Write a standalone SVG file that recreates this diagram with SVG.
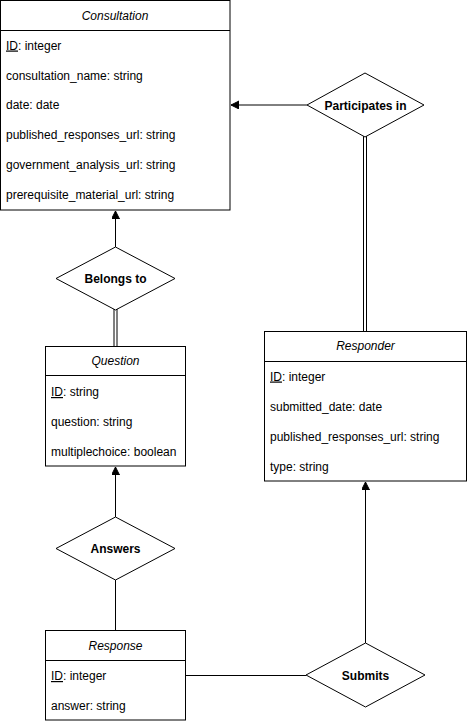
<svg xmlns="http://www.w3.org/2000/svg" width="467" height="721" viewBox="0 0 467 721">
<defs>
<style>
.box{fill:#fff;stroke:#000;stroke-width:1}
.ln{stroke:#000;stroke-width:1;fill:none}
.t{font-family:"Liberation Sans",Arial,Helvetica,sans-serif;font-size:12px;fill:#000}
.title{font-style:italic;text-anchor:middle}
.rel{font-weight:bold;text-anchor:middle}
.dia{fill:#fff;stroke:#000;stroke-width:1}
</style>
<marker id="arr" markerUnits="userSpaceOnUse" markerWidth="10" markerHeight="10" refX="8" refY="4" orient="auto">
<path d="M0,0 L8,4 L0,8 z" fill="#000" stroke="#000" stroke-width="1"/>
</marker>
</defs>
<rect width="467" height="721" fill="#fff"/>
<g id="connectors">
<line class="ln" x1="307" y1="105" x2="231" y2="105" marker-end="url(#arr)"/>
<line class="ln" x1="363.5" y1="136" x2="363.5" y2="331"/>
<line class="ln" x1="366.5" y1="136" x2="366.5" y2="331"/>
<line class="ln" x1="115.5" y1="247" x2="115.5" y2="211" marker-end="url(#arr)"/>
<line class="ln" x1="114" y1="309" x2="114" y2="346"/>
<line class="ln" x1="117" y1="309" x2="117" y2="346"/>
<line class="ln" x1="115.5" y1="517" x2="115.5" y2="467" marker-end="url(#arr)"/>
<line class="ln" x1="115.5" y1="580" x2="115.5" y2="630"/>
<line class="ln" x1="186" y1="675.5" x2="306" y2="675.5"/>
<line class="ln" x1="365.5" y1="643" x2="365.5" y2="482" marker-end="url(#arr)"/>
</g>
<g id="consultation">
<rect class="box" x="0.5" y="0.5" width="229.5" height="209.5"/>
<line class="ln" x1="0.5" y1="30.5" x2="230" y2="30.5"/>
<text class="t title" x="115" y="19.5">Consultation</text>
<text class="t" x="6" y="49.5"><tspan text-decoration="underline">ID</tspan>: integer</text>
<text class="t" x="6" y="79.5">consultation_name: string</text>
<text class="t" x="6" y="109">date: date</text>
<text class="t" x="6" y="139">published_responses_url: string</text>
<text class="t" x="6" y="169">government_analysis_url: string</text>
<text class="t" x="6" y="199">prerequisite_material_url: string</text>
</g>
<g id="participates">
<polygon class="dia" points="365,73 424,105 365,137 307,105"/>
<text class="t rel" x="365.5" y="109.5">Participates in</text>
</g>
<g id="belongs">
<polygon class="dia" points="115.5,247 175,278.5 115.5,310 56,278.5"/>
<text class="t rel" x="115.5" y="283">Belongs to</text>
</g>
<g id="question">
<rect class="box" x="45.5" y="346.5" width="140" height="119.5"/>
<line class="ln" x1="45.5" y1="375.5" x2="185.5" y2="375.5"/>
<text class="t title" x="115.5" y="364.5">Question</text>
<text class="t" x="51" y="396"><tspan text-decoration="underline">ID</tspan>: string</text>
<text class="t" x="51" y="425.5">question: string</text>
<text class="t" x="51" y="455.5">multiplechoice: boolean</text>
</g>
<g id="responder">
<rect class="box" x="264.5" y="331.5" width="202" height="149.5"/>
<line class="ln" x1="264.5" y1="361.5" x2="466.5" y2="361.5"/>
<text class="t title" x="365.5" y="350">Responder</text>
<text class="t" x="270" y="380.5"><tspan text-decoration="underline">ID</tspan>: integer</text>
<text class="t" x="270" y="410.5">submitted_date: date</text>
<text class="t" x="270" y="440.5">published_responses_url: string</text>
<text class="t" x="270" y="470.5">type: string</text>
</g>
<g id="answers">
<polygon class="dia" points="115.5,517 175,548.5 115.5,580 56,548.5"/>
<text class="t rel" x="115.5" y="553">Answers</text>
</g>
<g id="response">
<rect class="box" x="45.5" y="630.5" width="140" height="89.5"/>
<line class="ln" x1="45.5" y1="660.5" x2="185.5" y2="660.5"/>
<text class="t title" x="115.5" y="649.5">Response</text>
<text class="t" x="51" y="680"><tspan text-decoration="underline">ID</tspan>: integer</text>
<text class="t" x="51" y="710">answer: string</text>
</g>
<g id="submits">
<polygon class="dia" points="365.5,643 425,675 365.5,707 306,675"/>
<text class="t rel" x="365.5" y="679.5">Submits</text>
</g>
</svg>
